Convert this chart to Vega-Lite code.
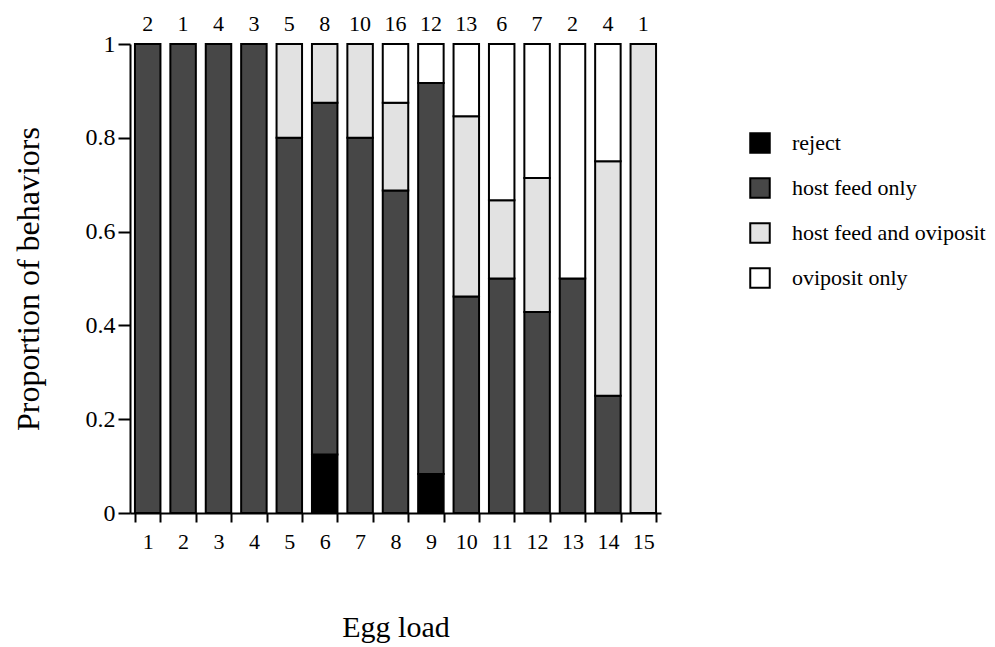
{
  "$schema": "https://vega.github.io/schema/vega-lite/v6.json",
  "autosize": {"type": "none"},
  "padding": {"left": 130, "top": 44, "right": 334, "bottom": 134},
  "width": 531,
  "height": 469,
  "background": "white",
  "config": {
    "font": "Liberation Serif",
    "view": {"stroke": null}
  },
  "datasets": {
    "props": [
      {"load": 1, "behavior": "host feed only", "ord": 2, "p": 1.0},
      {"load": 2, "behavior": "host feed only", "ord": 2, "p": 1.0},
      {"load": 3, "behavior": "host feed only", "ord": 2, "p": 1.0},
      {"load": 4, "behavior": "host feed only", "ord": 2, "p": 1.0},
      {"load": 5, "behavior": "host feed only", "ord": 2, "p": 0.8},
      {"load": 5, "behavior": "host feed and oviposit", "ord": 3, "p": 0.2},
      {"load": 6, "behavior": "reject", "ord": 1, "p": 0.125},
      {"load": 6, "behavior": "host feed only", "ord": 2, "p": 0.75},
      {"load": 6, "behavior": "host feed and oviposit", "ord": 3, "p": 0.125},
      {"load": 7, "behavior": "host feed only", "ord": 2, "p": 0.8},
      {"load": 7, "behavior": "host feed and oviposit", "ord": 3, "p": 0.2},
      {"load": 8, "behavior": "host feed only", "ord": 2, "p": 0.6875},
      {"load": 8, "behavior": "host feed and oviposit", "ord": 3, "p": 0.1875},
      {"load": 8, "behavior": "oviposit only", "ord": 4, "p": 0.125},
      {"load": 9, "behavior": "reject", "ord": 1, "p": 0.0833},
      {"load": 9, "behavior": "host feed only", "ord": 2, "p": 0.8334},
      {"load": 9, "behavior": "oviposit only", "ord": 4, "p": 0.0833},
      {"load": 10, "behavior": "host feed only", "ord": 2, "p": 0.4615},
      {"load": 10, "behavior": "host feed and oviposit", "ord": 3, "p": 0.3846},
      {"load": 10, "behavior": "oviposit only", "ord": 4, "p": 0.1539},
      {"load": 11, "behavior": "host feed only", "ord": 2, "p": 0.5},
      {"load": 11, "behavior": "host feed and oviposit", "ord": 3, "p": 0.1667},
      {"load": 11, "behavior": "oviposit only", "ord": 4, "p": 0.3333},
      {"load": 12, "behavior": "host feed only", "ord": 2, "p": 0.4286},
      {"load": 12, "behavior": "host feed and oviposit", "ord": 3, "p": 0.2857},
      {"load": 12, "behavior": "oviposit only", "ord": 4, "p": 0.2857},
      {"load": 13, "behavior": "host feed only", "ord": 2, "p": 0.5},
      {"load": 13, "behavior": "oviposit only", "ord": 4, "p": 0.5},
      {"load": 14, "behavior": "host feed only", "ord": 2, "p": 0.25},
      {"load": 14, "behavior": "host feed and oviposit", "ord": 3, "p": 0.5},
      {"load": 14, "behavior": "oviposit only", "ord": 4, "p": 0.25},
      {"load": 15, "behavior": "host feed and oviposit", "ord": 3, "p": 1.0}
    ],
    "counts": [
      {"load": 1, "n": 2}, {"load": 2, "n": 1}, {"load": 3, "n": 4}, {"load": 4, "n": 3},
      {"load": 5, "n": 5}, {"load": 6, "n": 8}, {"load": 7, "n": 10}, {"load": 8, "n": 16},
      {"load": 9, "n": 12}, {"load": 10, "n": 13}, {"load": 11, "n": 6}, {"load": 12, "n": 7},
      {"load": 13, "n": 2}, {"load": 14, "n": 4}, {"load": 15, "n": 1}
    ]
  },
  "layer": [
    {
      "data": {"name": "props"},
      "mark": {"type": "bar", "stroke": "black", "strokeWidth": 2},
      "encoding": {
        "x": {
          "field": "load", "type": "ordinal",
          "scale": {"paddingInner": 0.28, "paddingOuter": 0.14},
          "axis": {
            "title": "Egg load", "titleFontSize": 30, "titleFontWeight": "normal", "titleColor": "black",
            "titlePadding": 60, "labelAngle": 0, "labelFontSize": 22, "labelColor": "black",
            "labelPadding": 9, "tickBand": "extent", "tickSize": 9, "tickWidth": 2, "tickColor": "black",
            "domainColor": "black", "domainWidth": 2
          }
        },
        "y": {
          "field": "p", "type": "quantitative", "stack": "zero",
          "scale": {"domain": [0, 1], "nice": false},
          "axis": {
            "title": "Proportion of behaviors", "titleFontSize": 32, "titleFontWeight": "normal", "titleColor": "black",
            "titlePadding": 40, "values": [0, 0.2, 0.4, 0.6, 0.8, 1], "labelFontSize": 24, "labelColor": "black",
            "labelPadding": 3, "tickSize": 12, "tickWidth": 2, "tickColor": "black", "grid": false,
            "domainColor": "black", "domainWidth": 2,
            "labelExpr": "datum.value == 0 ? '0' : datum.value == 1 ? '1' : format(datum.value, '.1f')"
          }
        },
        "color": {
          "field": "behavior", "type": "nominal",
          "scale": {
            "domain": ["reject", "host feed only", "host feed and oviposit", "oviposit only"],
            "range": ["#000000", "#474747", "#e2e2e2", "#ffffff"]
          },
          "legend": {
            "title": null, "orient": "none", "legendX": 619, "legendY": 88,
            "symbolType": "square", "symbolSize": 380, "symbolStrokeColor": "black", "symbolStrokeWidth": 2,
            "symbolOpacity": 1,
            "labelFontSize": 22, "labelColor": "black", "labelOffset": 21, "rowPadding": 17, "labelLimit": 300
          }
        },
        "order": {"field": "ord", "type": "quantitative"}
      }
    },
    {
      "data": {"name": "counts"},
      "mark": {"type": "text", "fontSize": 22, "dy": -13, "baseline": "alphabetic", "color": "black"},
      "encoding": {
        "x": {"field": "load", "type": "ordinal"},
        "y": {"datum": 1, "type": "quantitative"},
        "text": {"field": "n", "type": "nominal"}
      }
    }
  ]
}
